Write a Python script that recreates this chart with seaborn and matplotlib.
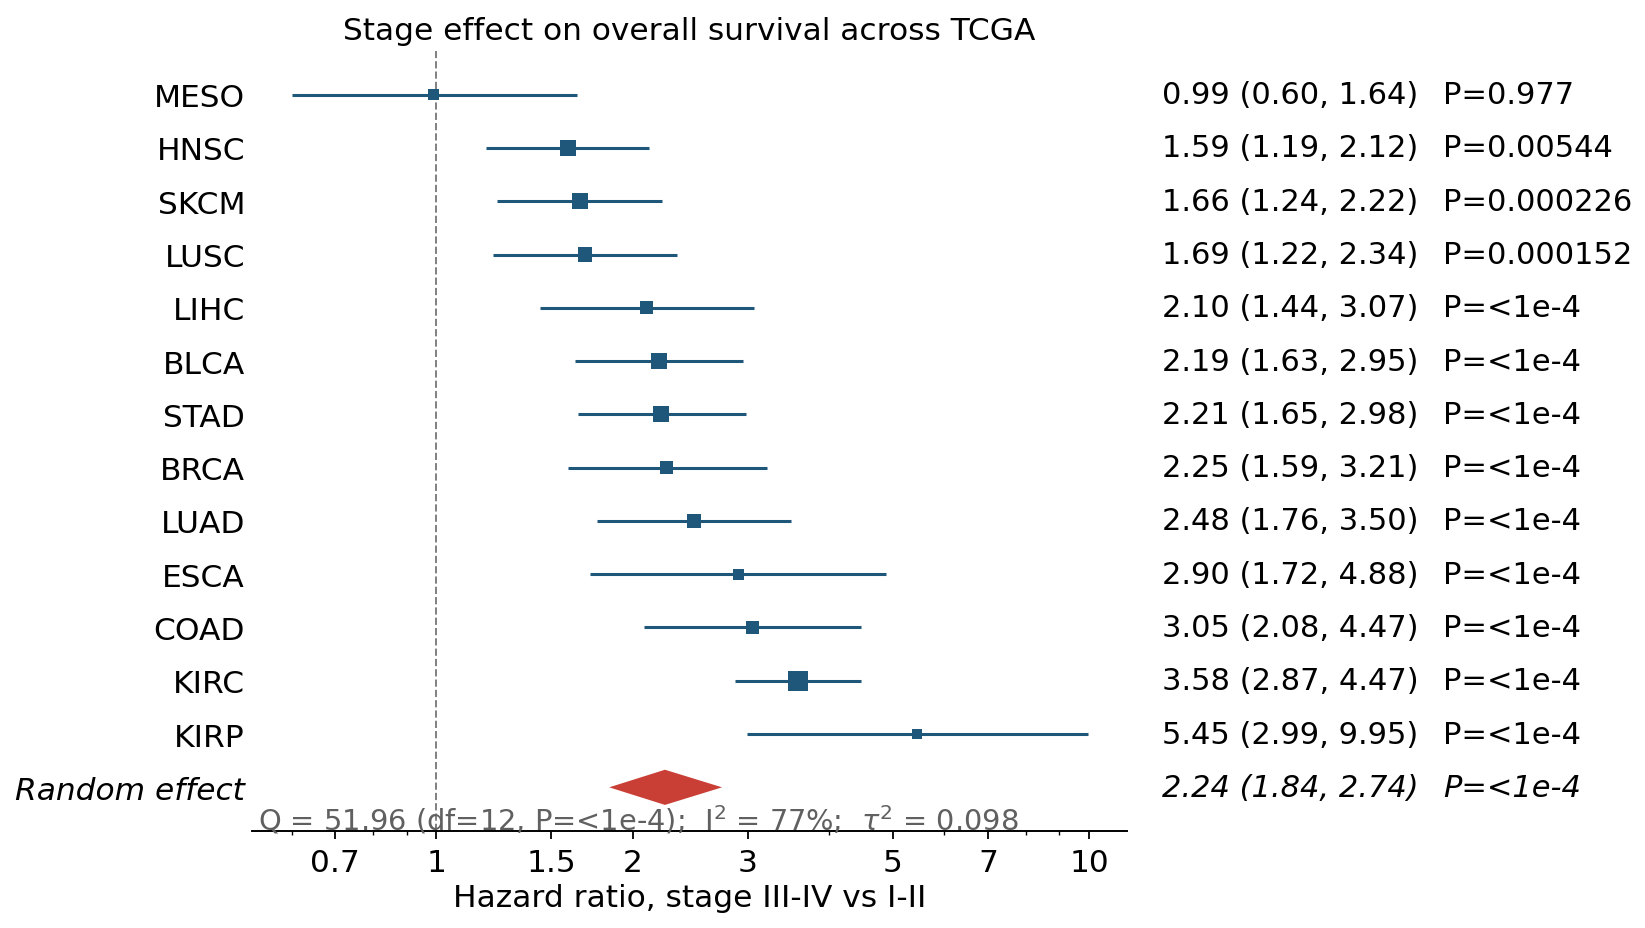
import numpy as np
import pandas as pd
import matplotlib
matplotlib.use("Agg")
import matplotlib.pyplot as plt
import matplotlib.ticker as mticker
import matplotlib.transforms as mtransforms
import seaborn as sns

# === data ===
cancers = ["MESO", "HNSC", "SKCM", "LUSC", "LIHC", "BLCA", "STAD",
           "BRCA", "LUAD", "ESCA", "COAD", "KIRC", "KIRP"]
hr = [0.99, 1.59, 1.66, 1.69, 2.10, 2.19, 2.21, 2.25, 2.48, 2.90, 3.05, 3.58, 5.45]
ci_lo = [0.60, 1.19, 1.24, 1.22, 1.44, 1.63, 1.65, 1.59, 1.76, 1.72, 2.08, 2.87, 2.99]
ci_hi = [1.64, 2.12, 2.22, 2.34, 3.07, 2.95, 2.98, 3.21, 3.50, 4.88, 4.47, 4.47, 9.95]
pvals = ["0.977", "0.00544", "0.000226", "0.000152", "<1e-4", "<1e-4", "<1e-4",
         "<1e-4", "<1e-4", "<1e-4", "<1e-4", "<1e-4", "<1e-4"]
# relative study weight (%)
weight = [4.5, 9.6, 9.6, 7.6, 6.3, 9.6, 9.6, 6.3, 7.3, 4.5, 6.3, 15.0, 3.7]

re_label = "Random effect"
re_hr, re_lo, re_hi, re_p = 2.24, 1.84, 2.74, "<1e-4"
het_q, het_df, het_p, het_i2, het_tau2 = 51.96, 12, "<1e-4", 77, 0.098

tick_vals = [0.7, 1, 1.5, 2, 3, 5, 7, 10]
tick_labels = ["0.7", "1", "1.5", "2", "3", "5", "7", "10"]

df = pd.DataFrame({"cancer": cancers, "hr": hr, "lo": ci_lo, "hi": ci_hi,
                   "p": pvals, "weight": weight})
df["pos"] = np.arange(len(df))
re_pos = len(df)

blue = "#1f577b"
red = "#c93f36"

sns.set_style("white")
plt.rcParams["font.family"] = ["DejaVu Sans"]
plt.rcParams.update({"text.color": "black", "axes.labelcolor": "black",
                     "xtick.color": "black", "ytick.color": "black"})

fig = plt.figure(figsize=(16.45, 9.29), dpi=100)
ax = fig.add_axes([0.1532, 0.1044, 0.532, 0.8396])

# reference line at HR = 1
ax.axvline(1, color="gray", lw=1.4, ls="--", zorder=1)

# confidence intervals
ax.hlines(df["pos"], df["lo"], df["hi"], color=blue, lw=2.2, zorder=2)

# point estimates, box area ~ weight
k = 13.85
sns.scatterplot(data=df, x="hr", y="pos", size="weight",
                sizes=(df["weight"].min() * k, df["weight"].max() * k),
                marker="s", color=blue, linewidth=0, legend=False,
                zorder=3, ax=ax)

# pooled random-effect diamond
dh = 0.33
ax.fill([re_lo, re_hr, re_hi, re_hr], [re_pos, re_pos - dh, re_pos, re_pos + dh],
        color=red, lw=0, zorder=3)

# axes styling
ax.set_xscale("log")
ax.set_xlim(min(ci_lo) / 1.15, max(ci_hi) * 1.15)
ax.set_ylim(re_pos + 0.82, -0.82)
ax.xaxis.set_major_locator(mticker.FixedLocator(tick_vals))
ax.xaxis.set_major_formatter(mticker.FixedFormatter(tick_labels))
ax.xaxis.set_minor_locator(mticker.LogLocator(base=10, subs=np.arange(2, 10)))
ax.xaxis.set_minor_formatter(mticker.NullFormatter())

ax.set_yticks(list(df["pos"]) + [re_pos])
ax.set_yticklabels(cancers + [re_label])
ax.get_yticklabels()[-1].set_style("italic")

for s in ["top", "right", "left"]:
    ax.spines[s].set_visible(False)
ax.spines["bottom"].set_linewidth(1.4)
ax.spines["bottom"].set_color("black")

ax.tick_params(axis="y", length=0, pad=5, labelsize=22.5)
ax.tick_params(axis="x", which="major", length=5.5, width=1.3, pad=7, labelsize=22.5,
               bottom=True)
ax.tick_params(axis="x", which="minor", length=3, width=1.0, bottom=True)

ax.set_xlabel("Hazard ratio, stage III-IV vs I-II", fontsize=22.5, labelpad=4)
ax.set_ylabel("")
ax.set_title("Stage effect on overall survival across TCGA", fontsize=22.5, pad=9)

# right-hand text columns
trans = mtransforms.blended_transform_factory(fig.transFigure, ax.transData)
for _, r in df.iterrows():
    ax.text(0.7065, r["pos"], f"{r['hr']:.2f} ({r['lo']:.2f}, {r['hi']:.2f})",
            transform=trans, va="center", ha="left", fontsize=22)
    ax.text(0.8775, r["pos"], f"P={r['p']}", transform=trans,
            va="center", ha="left", fontsize=22)
ax.text(0.7065, re_pos, f"{re_hr:.2f} ({re_lo:.2f}, {re_hi:.2f})", transform=trans,
        va="center", ha="left", fontsize=22, style="italic")
ax.text(0.8775, re_pos, f"P={re_p}", transform=trans, va="center", ha="left",
        fontsize=22, style="italic")

# heterogeneity statistics
het = (f"Q = {het_q:.2f} (df={het_df}, P={het_p});  I$^2$ = {het_i2}%;  "
       f"$\\tau^2$ = {het_tau2:.3f}")
ax.text(0.007, 0.002, het, transform=ax.transAxes, ha="left", va="baseline",
        fontsize=20.8, color="#606060")

fig.savefig("out.png", dpi=100)
